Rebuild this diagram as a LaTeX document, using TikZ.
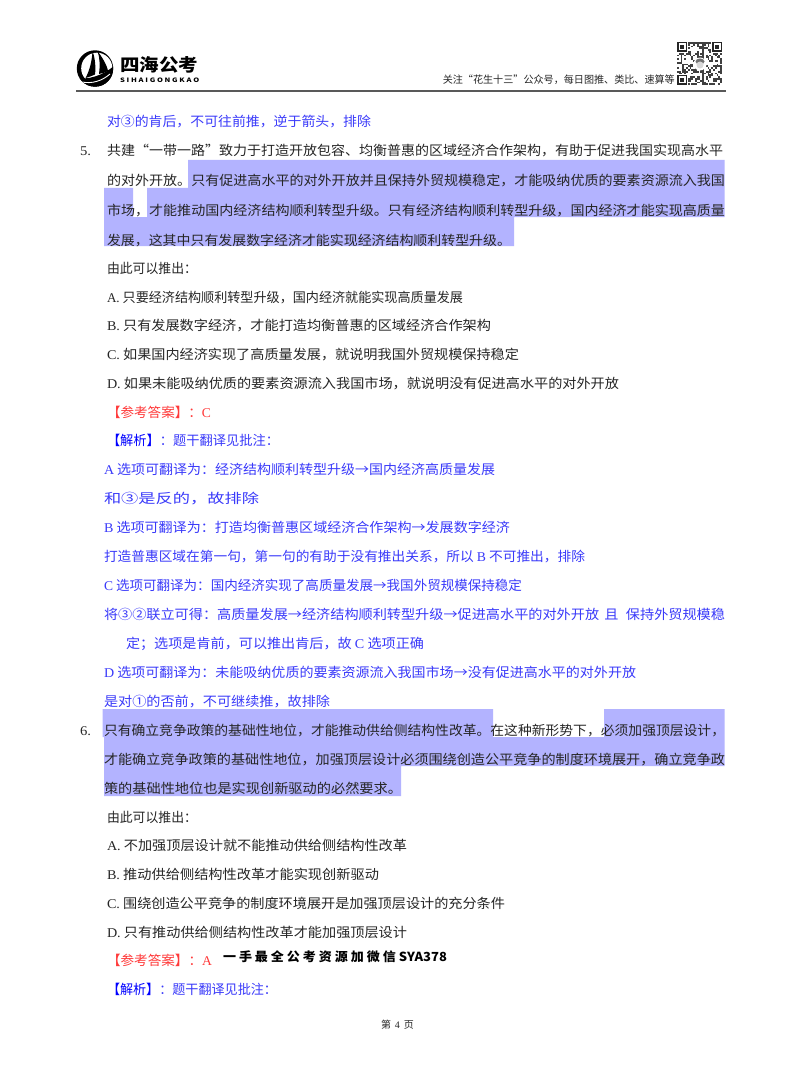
\documentclass[tikz,border=0pt]{standalone}
\usepackage{fontspec}
\usepackage{graphicx}
\setmainfont{Noto Sans CJK SC}
\newfontfamily\lat{Liberation Serif}
\definecolor{hl}{HTML}{B3B3FF}
\definecolor{bl}{HTML}{3A3AFA}
\definecolor{rd}{HTML}{FF3A3A}
\definecolor{tx}{HTML}{262626}
\newcounter{lnno}
\newcommand{\Ln}[5][tx]{% color, x0, x1, center y, text
  \stepcounter{lnno}
  \pgfmathsetmacro{\lnw}{#3-#2}
  \node[txtline,text=#1] (line\thelnno) at (#2,#4+6) {\resizebox{\lnw pt}{\height}{\fontsize{13.4}{15}\selectfont #5}};
}
\newcommand{\Bb}[1]{{\color{blue}#1}}
\tikzset{txtline/.style={anchor=base west,inner sep=0pt,outer sep=0pt},
  hlbox/.style={fill=hl,draw=none},
  qrfill/.style={fill=black!75,draw=none}}
\begin{document}
\begin{tikzpicture}[x=1pt,y=-1pt]
\useasboundingbox (0,0) rectangle (800,1086);
\fill[white] (0,0) rectangle (800,1086);
% highlights
\fill[hlbox] (188,160) -- (724.5,160) -- (724.5,217) -- (514,217) -- (514,246) -- (104,246) -- (104,188) -- (133,188) -- (133,217) -- (147,217) -- (147,188) -- (188,188) -- cycle;
\fill[hlbox] (102.5,709) -- (493,709) -- (493,737) -- (604,737) -- (604,709) -- (724.5,709) -- (724.5,766) -- (401,766) -- (401,796) -- (104,796) -- (104,737) -- (102.5,737) -- cycle;
% logo
\fill[black] (95,68.5) circle (18.2);
\fill[white] (96.8,68.3) circle (15.6);
\begin{scope}
\clip (95,68.5) circle (18.2);
\fill[black] (76,78) .. controls (88,80) and (102,76) .. (114,66) -- (114,90) -- (76,90) -- cycle;
\draw[white,line width=0.9pt] (82,82) .. controls (92,84) and (102,81) .. (110,74);
\end{scope}
\fill[black] (92.5,51) .. controls (92,60) and (90,70) .. (85.5,78) .. controls (89,77) and (92,76) .. (95,74.5) .. controls (96,67) and (95,58) .. (92.5,51) -- cycle;
\fill[black] (97.5,51) .. controls (102,57) and (107,65) .. (108,71) .. controls (105,72.5) and (102,73.5) .. (99,74) .. controls (100,66) and (100,58) .. (97.5,51) -- cycle;
\node[anchor=base west,inner sep=0pt] (logotext) at (120,72) {\resizebox{78pt}{15pt}{\bfseries 四海公考}};
\node[anchor=base west,inner sep=0pt] (logosub) at (120,83) {\resizebox{79pt}{\height}{\bfseries\fontsize{6}{7}\selectfont S I H A I G O N G K A O}};
\node[anchor=base east,inner sep=0pt,text=tx] (slogan) at (675,84) {\resizebox{232pt}{\height}{\fontsize{10.2}{12}\selectfont 关注“花生十三”公众号，每日图推、类比、速算等}};
\fill[black!65] (76,90.5) rectangle (726,92);
% qr
\foreach \i in {0,...,24}{\foreach \j in {0,...,23}{
  \pgfmathtruncatemacro{\v}{mod(mod(\i*\i,13)*\j*3+mod(\j*\j,11)*\i*5+\i*7+\j*11,7)}
  \ifnum\v<3 \fill[qrfill] ({677+\i*1.8},{42+\j*1.8}) rectangle +(1.8,1.8);\fi
}}
\foreach \x/\y in {677/42,712/42,677/75}{
  \fill[white] (\x-1,\y-1) rectangle +(12,12);
  \fill[black!85] (\x,\y) rectangle +(10,10);
  \fill[white] (\x+1.5,\y+1.5) rectangle +(7,7);
  \fill[black!85] (\x+3,\y+3) rectangle +(4,4);
}
\fill[white] (700,64) circle (6.5);
\fill[black!55] (700,61.5) ellipse (4.5 and 3);
\fill[black!15] (700,65) ellipse (3.5 and 3.5);
% text
\Ln[bl]{107}{371}{121}{对③的肯后，不可往前推，逆于箭头，排除}
\Ln{80}{91}{150}{{\lat 5.}}
\Ln{107}{723}{150}{共建“一带一路”致力于打造开放包容、均衡普惠的区域经济合作架构，有助于促进我国实现高水平}
\Ln{107}{725}{180}{的对外开放。只有促进高水平的对外开放并且保持外贸规模稳定，才能吸纳优质的要素资源流入我国}
\Ln{107}{725}{209}{市场，才能推动国内经济结构顺利转型升级。只有经济结构顺利转型升级，国内经济才能实现高质量}
\Ln{107}{511}{239}{发展，这其中只有发展数字经济才能实现经济结构顺利转型升级。}
\Ln{107}{197}{267}{由此可以推出：}
\Ln{107}{463}{296}{{\lat A.} 只要经济结构顺利转型升级，国内经济就能实现高质量发展}
\Ln{107}{491}{324}{{\lat B.} 只有发展数字经济，才能打造均衡普惠的区域经济合作架构}
\Ln{107}{519}{353}{{\lat C.} 如果国内经济实现了高质量发展，就说明我国外贸规模保持稳定}
\Ln{107}{619}{382}{{\lat D.} 如果未能吸纳优质的要素资源流入我国市场，就说明没有促进高水平的对外开放}
\Ln[rd]{107}{211}{411}{【参考答案】：{\lat C}}
\Ln[bl]{107}{279}{439}{\Bb{【解析】}：题干翻译见批注：}
\Ln[bl]{104}{495}{468}{{\lat A} 选项可翻译为：经济结构顺利转型升级→国内经济高质量发展}
\Ln[bl]{104}{259}{497}{和③是反的，故排除}
\Ln[bl]{104}{510}{526}{{\lat B} 选项可翻译为：打造均衡普惠区域经济合作架构→发展数字经济}
\Ln[bl]{104}{585}{555}{打造普惠区域在第一句，第一句的有助于没有推出关系，所以 {\lat B} 不可推出，排除}
\Ln[bl]{104}{522}{584}{{\lat C} 选项可翻译为：国内经济实现了高质量发展→我国外贸规模保持稳定}
\Ln[bl]{104}{725}{613}{将③②联立可得：高质量发展→经济结构顺利转型升级→促进高水平的对外开放\hspace{5pt}且\hspace{7pt}保持外贸规模稳}
\Ln[bl]{126}{424}{642}{定；选项是肯前，可以推出肯后，故 {\lat C} 选项正确}
\Ln[bl]{104}{636}{671}{{\lat D} 选项可翻译为：未能吸纳优质的要素资源流入我国市场→没有促进高水平的对外开放}
\Ln[bl]{104}{330}{700}{是对①的否前，不可继续推，故排除}
\Ln{80}{91}{729}{{\lat 6.}}
\Ln{104}{725}{729}{只有确立竞争政策的基础性地位，才能推动供给侧结构性改革。在这种新形势下，必须加强顶层设计，}
\Ln{104}{725}{758}{才能确立竞争政策的基础性地位，加强顶层设计必须围绕创造公平竞争的制度环境展开，确立竞争政}
\Ln{104}{402}{787}{策的基础性地位也是实现创新驱动的必然要求。}
\Ln{107}{197}{816}{由此可以推出：}
\Ln{107}{407}{844}{{\lat A.} 不加强顶层设计就不能推动供给侧结构性改革}
\Ln{107}{379}{873}{{\lat B.} 推动供给侧结构性改革才能实现创新驱动}
\Ln{107}{505}{902}{{\lat C.} 围绕创造公平竞争的制度环境展开是加强顶层设计的充分条件}
\Ln{107}{407}{931}{{\lat D.} 只有推动供给侧结构性改革才能加强顶层设计}
\Ln[rd]{107}{212}{959}{【参考答案】：{\lat A}}
\node[txtline,text=black] (wm) at (223,961) {\resizebox{224pt}{\height}{\bfseries\fontsize{12.5}{15}\selectfont 一 手 最 全 公 考 资 源 加 微 信 SYA378}};
\Ln[bl]{107}{277}{988}{\Bb{【解析】}：题干翻译见批注：}
\node[txtline,text=tx] (pg) at (381,1028) {\fontsize{10}{11}\selectfont 第 {\lat\,4\,} 页};
\end{tikzpicture}
\end{document}
